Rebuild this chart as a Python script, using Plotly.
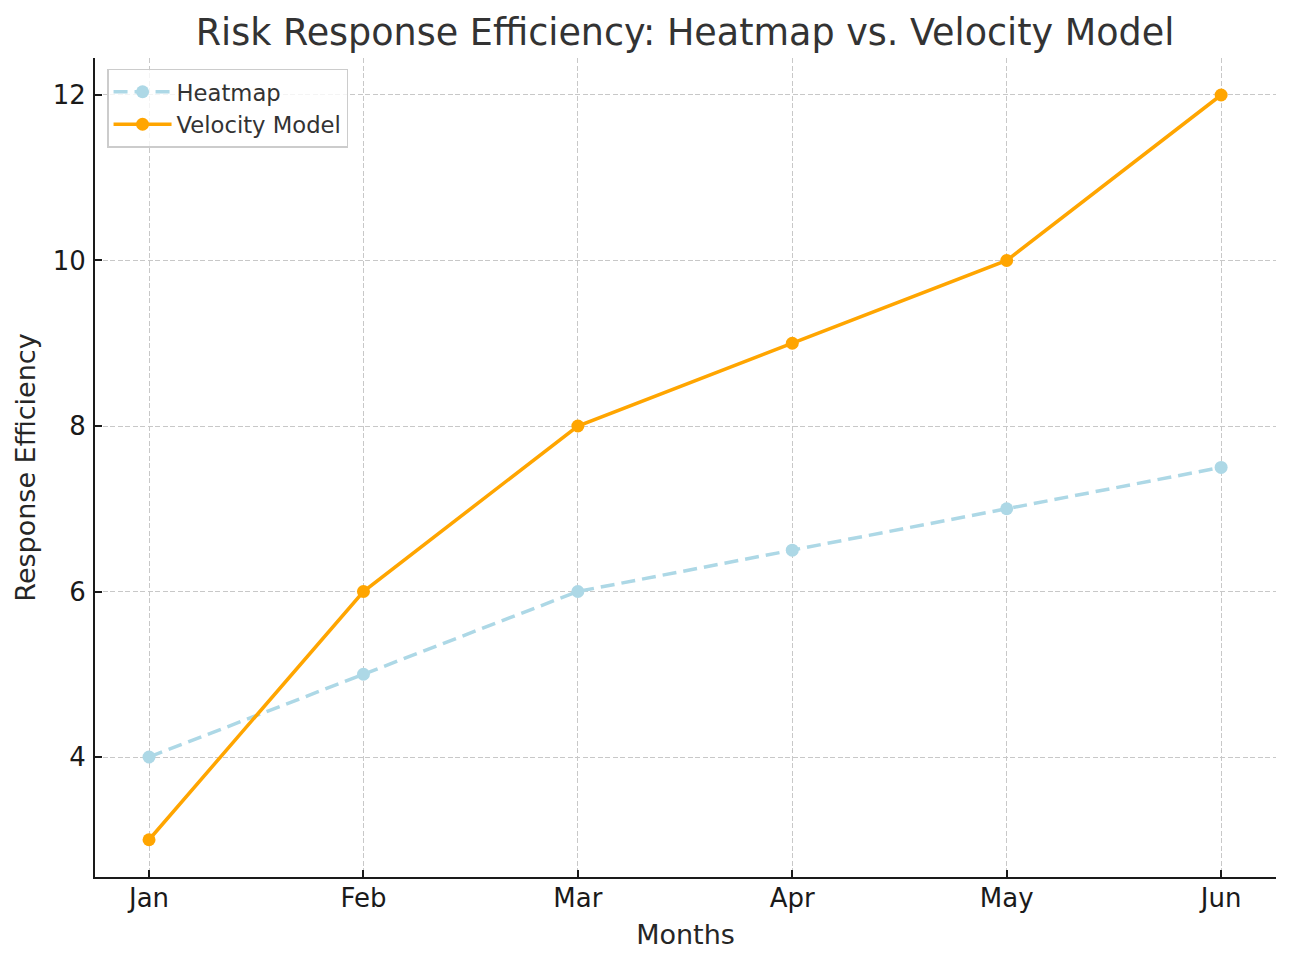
import plotly.graph_objects as go

months = ["Jan", "Feb", "Mar", "Apr", "May", "Jun"]
heatmap = [4, 5, 6, 6.5, 7, 7.5]
velocity = [3, 6, 8, 9, 10, 12]
y_ticks = [4, 6, 8, 10, 12]

x_idx = list(range(len(months)))

fig = go.Figure()
fig.add_trace(go.Scatter(
    x=x_idx, y=heatmap, name="Heatmap", mode="lines+markers",
    line=dict(color="#ADD8E6", width=3.5, dash="14px,7px"),
    marker=dict(color="#ADD8E6", size=13),
))
fig.add_trace(go.Scatter(
    x=x_idx, y=velocity, name="Velocity Model", mode="lines+markers",
    line=dict(color="#FFA500", width=3.5),
    marker=dict(color="#FFA500", size=13),
))

font_family = "DejaVu Sans"
grid_color = "#C8C8C8"
fig.update_layout(
    width=1292, height=965,
    paper_bgcolor="white", plot_bgcolor="white",
    margin=dict(l=87, r=24, t=50, b=96),
    font=dict(family=font_family, color="#262626"),
    title=dict(text="Risk Response Efficiency: Heatmap vs. Velocity Model",
               x=0.524, xanchor="center", y=0.9751, yanchor="middle",
               font=dict(size=36.5, color="#333333")),
    legend=dict(x=0.0102, y=0.9866, xanchor="left", yanchor="top",
                bordercolor="#CCCCCC", borderwidth=1.5, bgcolor="rgba(255,255,255,0.8)",
                font=dict(size=22.7, color="#333333"),
                itemwidth=58),
    showlegend=True,
)
fig.update_xaxes(
    range=[-0.252, 5.256], tickmode="array", tickvals=x_idx, ticktext=months,
    showline=True, linecolor="#1a1a1a", linewidth=2,
    ticks="inside", ticklen=7, tickwidth=1.5, tickcolor="#1a1a1a",
    showgrid=True, gridcolor=grid_color, gridwidth=1, griddash="5px,2.5px",
    tickfont=dict(size=26, color="#1a1a1a"), zeroline=False,
    ticklabelstandoff=-3,
    title=dict(text="Months", font=dict(size=27, color="#262626"), standoff=13),
)
fig.update_yaxes(
    range=[2.55, 12.447], tickmode="array", tickvals=y_ticks,
    showline=True, linecolor="#1a1a1a", linewidth=2,
    ticks="inside", ticklen=7, tickwidth=1.5, tickcolor="#1a1a1a",
    showgrid=True, gridcolor=grid_color, gridwidth=1, griddash="5px,2.5px",
    tickfont=dict(size=26, color="#1a1a1a"), zeroline=False,
    ticklabelstandoff=2,
    title=dict(text="Response Efficiency", font=dict(size=27, color="#262626"), standoff=9),
)

fig.write_html("out.html")
